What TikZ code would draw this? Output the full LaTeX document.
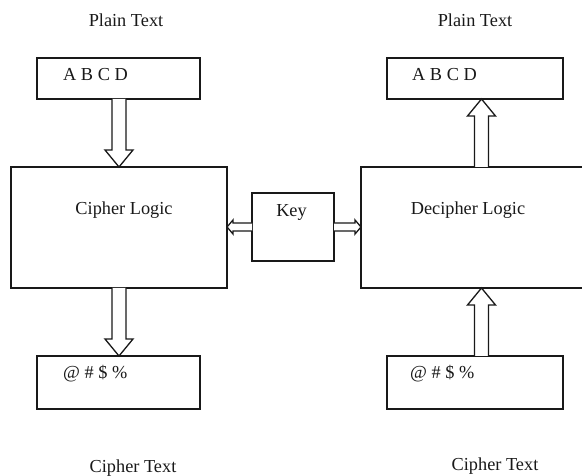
\documentclass[tikz,border=0pt]{standalone}
\usepackage{fontspec}
\setmainfont{Liberation Serif}
\usetikzlibrary{calc}

\tikzset{
  box/.style={draw=black!90, line width=1.3pt, fill=none, inner sep=0pt, outer sep=0pt, anchor=north west},
  lbl/.style={inner sep=0pt, text=black!90, font=\fontsize{18.3}{21}\selectfont},
  blockarrow/.style={draw=black!90, line width=1.3pt, fill=white, line join=miter},
}

% vertical hollow arrow from #1 to #2 (same x)
\newcommand\vblock[2]{%
  \draw[blockarrow] let \p1=#1, \p2=#2, \n1={sign(\y2-\y1)}, \n2={\y2-\n1*17} in
    ({\x1-7pt},\y1) -- ({\x1-7pt},\n2) -- ({\x1-14pt},\n2)
    -- (\x1,\y2) -- ({\x1+14pt},\n2) -- ({\x1+7pt},\n2) -- ({\x1+7pt},\y1);}
% horizontal hollow arrow from #1 to #2 (same y)
\newcommand\hblock[2]{%
  \draw[blockarrow] let \p1=#1, \p2=#2, \n1={sign(\x2-\x1)}, \n2={\x2-\n1*6} in
    (\x1,{\y1-4pt}) -- (\n2,{\y1-4pt}) -- (\n2,{\y1-7pt})
    -- (\x2,\y1) -- (\n2,{\y1+7pt}) -- (\n2,{\y1+4pt}) -- (\x1,{\y1+4pt});}

\begin{document}
\begin{tikzpicture}[x=1pt,y=1pt]
\useasboundingbox (0,0) rectangle (582,-476);
\clip (0,0) rectangle (582,-476);
\fill[white] (0,0) rectangle (582,-476);

% boxes
\node[box, minimum width=163, minimum height=41] (ptl) at (37,-58) {};
\node[box, minimum width=176, minimum height=41] (ptr) at (387,-58) {};
\node[box, minimum width=216, minimum height=121] (cl) at (11,-167) {};
\node[box, minimum width=240, minimum height=121] (dl) at (361,-167) {};
\node[box, minimum width=82, minimum height=68] (key) at (252,-193) {};
\node[box, minimum width=163, minimum height=53] (ctl) at (37,-356) {};
\node[box, minimum width=176, minimum height=53] (ctr) at (387,-356) {};

% shaft axes of the vertical arrows
\coordinate (axl) at (119,0);
\coordinate (axr) at (481.5,0);

% arrows
\vblock{(axl |- ptl.south)}{(axl |- cl.north)}
\vblock{(axl |- cl.south)}{(axl |- ctl.north)}
\vblock{(axr |- dl.north)}{(axr |- ptr.south)}
\vblock{(axr |- ctr.north)}{(axr |- dl.south)}
\hblock{(key.west)}{(key.west -| cl.east)}
\hblock{(key.east)}{(key.east -| dl.west)}

% labels
\node[lbl, anchor=base] (tpl) at (126,-27) {Plain Text};
\node[lbl, anchor=base] (tpr) at (475,-27) {Plain Text};
\node[lbl, anchor=base west] (tal) at (63,-81) {A B C D};
\node[lbl, anchor=base west] (tar) at (412,-81) {A B C D};
\node[lbl, anchor=base] (tcl) at (124,-215) {Cipher Logic};
\node[lbl, anchor=base] (tk) at (291.5,-217) {Key};
\node[lbl, anchor=base] (tdl) at (468,-215) {Decipher Logic};
\node[lbl, anchor=base west] (tsl) at (63,-378) {@ \# \$ \%};
\node[lbl, anchor=base west] (tsr) at (410,-378) {@ \# \$ \%};
\node[lbl, anchor=base] (tctl) at (133,-472) {Cipher Text};
\node[lbl, anchor=base] (tctr) at (495,-470) {Cipher Text};
\end{tikzpicture}
\end{document}
